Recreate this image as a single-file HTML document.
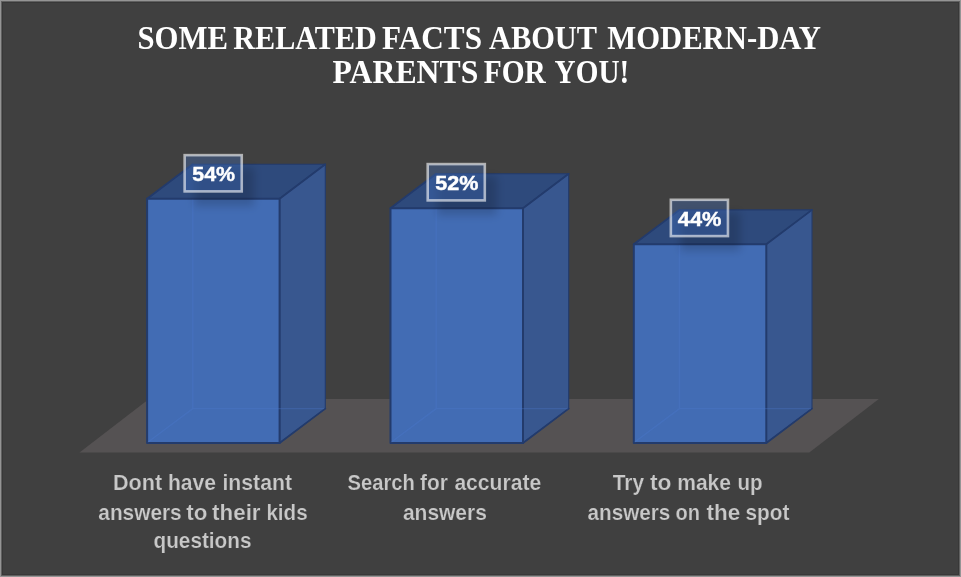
<!DOCTYPE html>
<html lang="en">
<head>
<meta charset="utf-8">
<title>Some related facts about modern-day parents for you!</title>
<style>
  html, body { margin: 0; padding: 0; background: #404040; }
  body { width: 961px; height: 577px; overflow: hidden; position: relative; }
  svg { position: absolute; left: 0; top: 0; display: block; will-change: transform; }
  .title { font-family: "Liberation Serif", "DejaVu Serif", serif; font-weight: bold; font-size: 33.7px; fill: #ffffff; }
  .cat { font-family: "Liberation Sans", "DejaVu Sans", sans-serif; font-weight: bold; font-size: 22px; fill: #c8c8c8; stroke: #404040; stroke-width: 0.2px; }
  .val { font-family: "Liberation Sans", "DejaVu Sans", sans-serif; font-weight: bold; font-size: 20.6px; fill: #ffffff; stroke: #ffffff; stroke-width: 0.45px; }
</style>
</head>
<body>
<svg width="961" height="577" viewBox="0 0 961 577">
  <defs>
    <filter id="lblShadow" x="-40%" y="-40%" width="180%" height="200%">
      <feGaussianBlur stdDeviation="4.2"/>
    </filter>
  </defs>

  <!-- background + frame -->
  <rect x="0" y="0" width="961" height="577" fill="#959595"/>
  <rect x="1" y="1" width="959" height="575" fill="#606060"/>
  <rect x="2" y="2" width="957" height="573" fill="#383838"/>
  <rect x="3" y="3" width="955" height="571" fill="#404040"/>

  <!-- title -->
  <g class="title">
    <text x="137.4" y="49" textLength="90.5" lengthAdjust="spacingAndGlyphs">SOME</text>
    <text x="233.3" y="49" textLength="143.5" lengthAdjust="spacingAndGlyphs">RELATED</text>
    <text x="382" y="49" textLength="100" lengthAdjust="spacingAndGlyphs">FACTS</text>
    <text x="489" y="49" textLength="108" lengthAdjust="spacingAndGlyphs">ABOUT</text>
    <text x="607.2" y="49" textLength="213.6" lengthAdjust="spacingAndGlyphs">MODERN-DAY</text>
    <text x="332.6" y="83.1" textLength="145.7" lengthAdjust="spacingAndGlyphs">PARENTS</text>
    <text x="483.8" y="83.1" textLength="62" lengthAdjust="spacingAndGlyphs">FOR</text>
    <text x="554.6" y="83.1" textLength="74.6" lengthAdjust="spacingAndGlyphs">YOU!</text>
  </g>

  <!-- floor -->
  <polygon points="79.5,452.6 809.3,452.6 878.8,399.1 149,399.1" fill="#555253"/>

  <!-- bar 1 : 54% -->
  <g stroke="#233b6c" stroke-linejoin="round" stroke-linecap="round">
    <polygon points="147.1,198.8 279.6,198.8 325.3,164.3 192.8,164.3" fill="#2e4a7c" stroke-width="1.1"/>
    <polygon points="279.6,198.8 325.3,164.3 325.3,408.6 279.6,443" fill="#38578f" stroke-width="1.1"/>
    <path d="M147.1,198.8 L192.8,164.3 M279.6,198.8 L325.3,164.3 M279.6,443 L325.3,408.6" fill="none" stroke-width="1.7"/>
    <rect x="147.1" y="198.8" width="132.5" height="244.2" fill="#426cb4" stroke-width="2"/>
  </g>
  <g fill="none" stroke="#4c7ad0" stroke-opacity="0.3" stroke-width="1.4">
    <path d="M192.8,199.8 V408.6 H324.3 M148.1,442 L192.8,408.6"/>
  </g>
  <!-- bar 2 : 52% -->
  <g stroke="#233b6c" stroke-linejoin="round" stroke-linecap="round">
    <polygon points="390.5,208.2 523,208.2 568.7,173.8 436.2,173.8" fill="#2e4a7c" stroke-width="1.1"/>
    <polygon points="523,208.2 568.7,173.8 568.7,408.6 523,443" fill="#38578f" stroke-width="1.1"/>
    <path d="M390.5,208.2 L436.2,173.8 M523,208.2 L568.7,173.8 M523,443 L568.7,408.6" fill="none" stroke-width="1.7"/>
    <rect x="390.5" y="208.2" width="132.5" height="234.8" fill="#426cb4" stroke-width="2"/>
  </g>
  <g fill="none" stroke="#4c7ad0" stroke-opacity="0.3" stroke-width="1.4">
    <path d="M436.2,209.2 V408.6 H567.7 M391.5,442 L436.2,408.6"/>
  </g>
  <!-- bar 3 : 44% -->
  <g stroke="#233b6c" stroke-linejoin="round" stroke-linecap="round">
    <polygon points="633.8,244.3 766.3,244.3 812,209.9 679.5,209.9" fill="#2e4a7c" stroke-width="1.1"/>
    <polygon points="766.3,244.3 812,209.9 812,408.6 766.3,443" fill="#38578f" stroke-width="1.1"/>
    <path d="M633.8,244.3 L679.5,209.9 M766.3,244.3 L812,209.9 M766.3,443 L812,408.6" fill="none" stroke-width="1.7"/>
    <rect x="633.8" y="244.3" width="132.5" height="198.7" fill="#426cb4" stroke-width="2"/>
  </g>
  <g fill="none" stroke="#4c7ad0" stroke-opacity="0.3" stroke-width="1.4">
    <path d="M679.5,245.3 V408.6 H811 M634.8,442 L679.5,408.6"/>
  </g>

  <!-- value labels -->
  <g>
    <rect x="194.35" y="167.35" width="59.7" height="38.85" fill="#000" fill-opacity="0.165" filter="url(#lblShadow)"/>
    <rect x="184.65" y="155.15" width="57.1" height="36.25" fill="#4472c4" fill-opacity="0.34" stroke="#ffffff" stroke-opacity="0.6" stroke-width="2.6"/>
    <text class="val" x="192.3" y="181.2" textLength="42.8" lengthAdjust="spacingAndGlyphs">54%</text>
  </g>
  <g>
    <rect x="437.4" y="176.3" width="59.7" height="38.9" fill="#000" fill-opacity="0.165" filter="url(#lblShadow)"/>
    <rect x="427.7" y="164.1" width="57.1" height="36.3" fill="#4472c4" fill-opacity="0.34" stroke="#ffffff" stroke-opacity="0.6" stroke-width="2.6"/>
    <text class="val" x="435.3" y="190.2" textLength="43.1" lengthAdjust="spacingAndGlyphs">52%</text>
  </g>
  <g>
    <rect x="680.55" y="212" width="59.7" height="38.9" fill="#000" fill-opacity="0.165" filter="url(#lblShadow)"/>
    <rect x="670.85" y="199.8" width="57.1" height="36.3" fill="#4472c4" fill-opacity="0.34" stroke="#ffffff" stroke-opacity="0.6" stroke-width="2.6"/>
    <text class="val" x="677.8" y="225.9" textLength="43.6" lengthAdjust="spacingAndGlyphs">44%</text>
  </g>

  <!-- category labels -->
  <g class="cat">
    <text x="113" y="489.5" textLength="49.2" lengthAdjust="spacingAndGlyphs">Dont</text>
    <text x="167.9" y="489.5" textLength="48.1" lengthAdjust="spacingAndGlyphs">have</text>
    <text x="222.4" y="489.5" textLength="69.6" lengthAdjust="spacingAndGlyphs">instant</text>
    <text x="98.3" y="520" textLength="83.4" lengthAdjust="spacingAndGlyphs">answers</text>
    <text x="186.2" y="520" textLength="21.1" lengthAdjust="spacingAndGlyphs">to</text>
    <text x="212.1" y="520" textLength="48.5" lengthAdjust="spacingAndGlyphs">their</text>
    <text x="266.4" y="520" textLength="41.2" lengthAdjust="spacingAndGlyphs">kids</text>
    <text x="153.5" y="548.3" textLength="98" lengthAdjust="spacingAndGlyphs">questions</text>
    <text x="347.5" y="489.5" textLength="67.3" lengthAdjust="spacingAndGlyphs">Search</text>
    <text x="420.1" y="489.5" textLength="27.9" lengthAdjust="spacingAndGlyphs">for</text>
    <text x="454.4" y="489.5" textLength="86.8" lengthAdjust="spacingAndGlyphs">accurate</text>
    <text x="402.9" y="519.8" textLength="84" lengthAdjust="spacingAndGlyphs">answers</text>
    <text x="612.7" y="489.5" textLength="31.3" lengthAdjust="spacingAndGlyphs">Try</text>
    <text x="650" y="489.5" textLength="21.5" lengthAdjust="spacingAndGlyphs">to</text>
    <text x="677.2" y="489.5" textLength="53.8" lengthAdjust="spacingAndGlyphs">make</text>
    <text x="737.5" y="489.5" textLength="25.1" lengthAdjust="spacingAndGlyphs">up</text>
    <text x="587.5" y="519.8" textLength="82.9" lengthAdjust="spacingAndGlyphs">answers</text>
    <text x="675.6" y="519.8" textLength="24.5" lengthAdjust="spacingAndGlyphs">on</text>
    <text x="706.5" y="519.8" textLength="33.7" lengthAdjust="spacingAndGlyphs">the</text>
    <text x="745.5" y="519.8" textLength="43.9" lengthAdjust="spacingAndGlyphs">spot</text>
  </g>
</svg>
</body>
</html>
